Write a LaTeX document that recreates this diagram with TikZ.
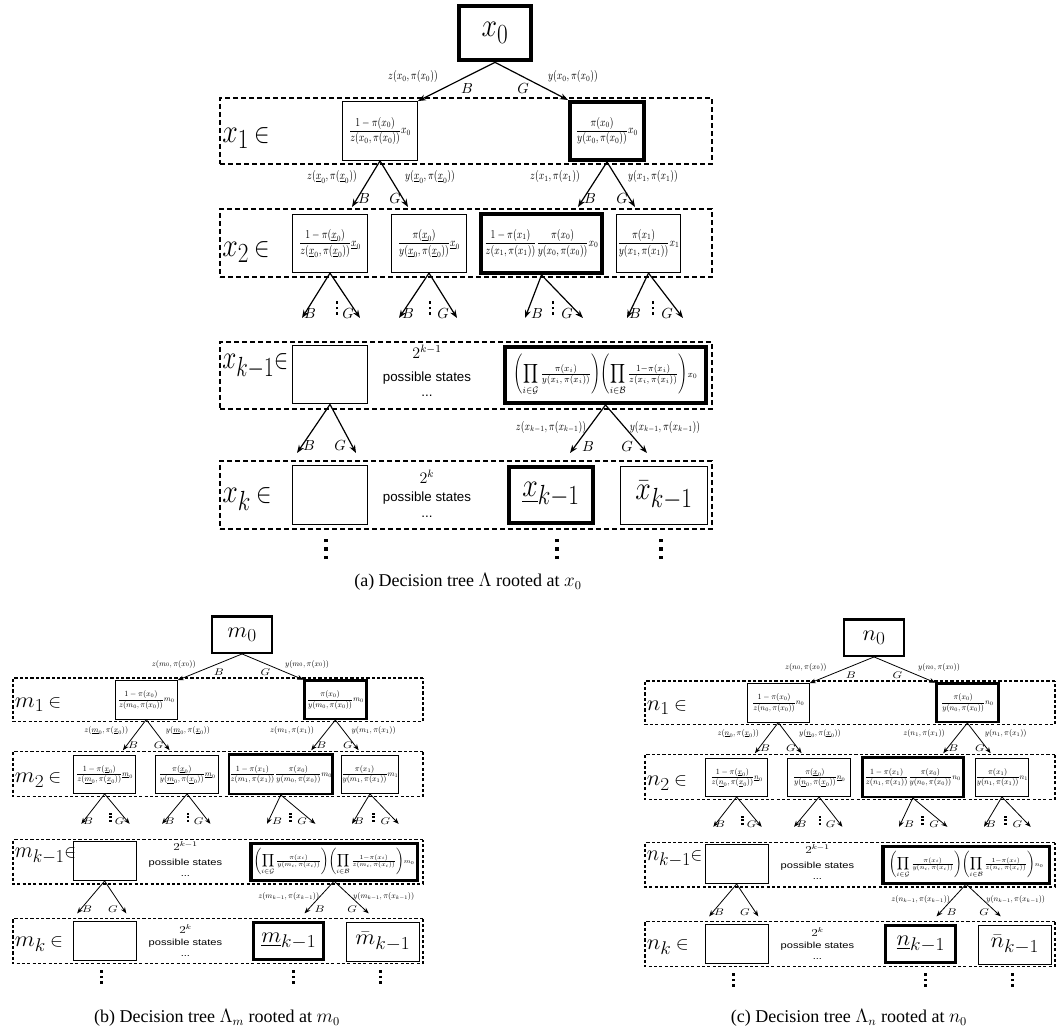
\documentclass[tikz,border=0pt]{standalone}
\usepackage{amsmath}
\usepackage{graphicx}
\usepackage{fontspec}
\setmainfont{Liberation Serif}
\setsansfont{Liberation Sans}
\usetikzlibrary{arrows.meta}

\newcommand{\sqdots}[2]{\vbox{\offinterlineskip\hbox{\rule{#1}{#1}}\vskip#2\hbox{\rule{#1}{#1}}\vskip#2\hbox{\rule{#1}{#1}}}}
\newcommand{\nm}[1]{\scalebox{0.78}[1]{$#1$}}
\newcommand{\lb}[1]{\scalebox{0.84}[1]{#1}}

\tikzset{
 kbox/.style={draw, line width=3pt, inner sep=0.5pt},
 tbox/.style={draw, line width=0.9pt, inner sep=0.5pt},
 rowbox/.style={draw, line width=1.8pt, dash pattern=on 3.4pt off 2.6pt, minimum width=369pt, inner sep=0pt},
 arr/.style={-{Stealth[length=6pt,width=4.5pt]}, line width=0.9pt},
 inframe/.style={line width=0.6pt},
 elab/.style={font=\fontsize{9}{10}\selectfont, inner sep=0pt},
 bgl/.style={font=\fontsize{11}{12}\selectfont, inner sep=0pt},
 bigl/.style={font=\fontsize{28}{30}\selectfont, inner sep=0pt},
 boxf/.style={font=\fontsize{9.2}{10}\selectfont},
 sans/.style={font=\sffamily\fontsize{10}{12}\selectfont, inner sep=0pt},
 capt/.style={font=\fontsize{13.5}{15}\selectfont, inner sep=0pt},
 dotsmall/.style={inner sep=0pt},
}

\newcommand{\elem}{{\fontsize{20}{20}\selectfont$\in$}}

\newcommand{\drawtree}[2]{%
% ---- root and level 1
\node[kbox, font=\fontsize{28}{30}\selectfont, minimum width=54pt, minimum height=41pt] (#2root) at (275,30) {\lb{$#1_0$}};
\node[rowbox, minimum height=49.5pt] (#2row1) at (246,128) {};
\node[bigl, anchor=west] (#2lab1) at (2,135) {\lb{$#1_1$\,\elem}};
\node[tbox, boxf, minimum width=56pt, minimum height=44pt] (#2L1) at (160,128) {\nm{\dfrac{1-\pi(x_0)}{z(#1_0,\pi(x_0))}#1_0}};
\node[kbox, boxf, minimum width=55.5pt, minimum height=43.5pt] (#2R1) at (387,128) {\nm{\dfrac{\pi(x_0)}{y(#1_0,\pi(x_0))}#1_0}};
\draw[arr] (#2root.south) -- (#2L1.north east);
\draw[arr] (#2root.south) -- (#2R1.north west);
\node[elab] (#2e1) at (193,74) {\nm{z(#1_0,\pi(x_0))}};
\node[elab] (#2e2) at (353,74) {\nm{y(#1_0,\pi(x_0))}};
\node[bgl] (#2b1) at (247,86) {$B$};
\node[bgl] (#2g1) at (303,86) {$G$};
% ---- level 2
\node[rowbox, minimum height=51pt] (#2row2) at (246,240) {};
\node[bigl, anchor=west] (#2lab2) at (2,249) {\lb{$#1_2$\,\elem}};
\node[tbox, boxf, minimum width=56.25pt, minimum height=43.5pt] (#2A) at (110,240.5) {\nm{\dfrac{1-\pi(\underline{x}_0)}{z(\underline{#1}_0,\pi(\underline{x}_0))}\underline{#1}_0}};
\node[tbox, boxf, minimum width=56.25pt, minimum height=43.5pt] (#2B) at (209,240.5) {\nm{\dfrac{\pi(\underline{x}_0)}{y(\underline{#1}_0,\pi(\underline{x}_0))}\underline{#1}_0}};
\node[kbox, boxf, minimum width=90.75pt, minimum height=44.25pt] (#2C) at (321.5,240.5) {\nm{\dfrac{1-\pi(x_1)}{z(#1_1,\pi(x_1))}\dfrac{\pi(x_0)}{y(#1_0,\pi(x_0))}#1_0}};
\node[tbox, boxf, minimum width=47.25pt, minimum height=43.5pt] (#2D) at (428.5,240.5) {\nm{\dfrac{\pi(x_1)}{y(#1_1,\pi(x_1))}#1_1}};
\coordinate (#2t1) at (132,204);
\coordinate (#2t2) at (188,204);
\coordinate (#2t3) at (358,204);
\coordinate (#2t4) at (415,204);
\draw[arr] (#2L1.south) -- (#2t1);
\draw[arr] (#2L1.south) -- (#2t2);
\draw[arr] (#2R1.south) -- (#2t3);
\draw[arr] (#2R1.south) -- (#2t4);
\node[elab] (#2e3) at (112,174) {\nm{z(\underline{#1}_0,\pi(\underline{x}_0))}};
\node[elab] (#2e4) at (210,174) {\nm{y(\underline{#1}_0,\pi(\underline{x}_0))}};
\node[elab] (#2e5) at (335,174) {\nm{z(#1_1,\pi(x_1))}};
\node[elab] (#2e6) at (433,174) {\nm{y(#1_1,\pi(x_1))}};
\node[bgl] (#2b2) at (144,196) {$B$};
\node[bgl] (#2g2) at (175,196) {$G$};
\node[bgl] (#2b3) at (370,196) {$B$};
\node[bgl] (#2g3) at (402,196) {$G$};
% ---- branches below level 2
\coordinate (#2u1) at (82,315);  \coordinate (#2u2) at (140,315);
\coordinate (#2u3) at (179,315); \coordinate (#2u4) at (237,315);
\coordinate (#2u5) at (305,315); \coordinate (#2u6) at (363,315);
\coordinate (#2u7) at (407,315); \coordinate (#2u8) at (463,315);
\draw[arr] (#2A.south) -- (#2u1);
\draw[arr] (#2A.south) -- (#2u2);
\draw[arr] (#2B.south) -- (#2u3);
\draw[arr] (#2B.south) -- (#2u4);
\draw[arr] (#2C.south) -- (#2u5);
\draw[arr] (#2C.south) -- (#2u6);
\draw[arr] (#2D.south) -- (#2u7);
\draw[arr] (#2D.south) -- (#2u8);
\node[bgl] (#2b4) at (90,311) {$B$};
\node[bgl] (#2g4) at (128,311) {$G$};
\node[bgl] (#2b5) at (188,311) {$B$};
\node[bgl] (#2g5) at (223,311) {$G$};
\node[bgl] (#2b6) at (317,311) {$B$};
\node[bgl] (#2g6) at (347,311) {$G$};
\node[bgl] (#2b7) at (415,311) {$B$};
\node[bgl] (#2g7) at (447,311) {$G$};
\node[dotsmall] (#2d1) at (117,305) {\sqdots{2.2pt}{1.8pt}};
\node[dotsmall] (#2d2) at (210,305) {\sqdots{2.2pt}{1.8pt}};
\node[dotsmall] (#2d3) at (333,305) {\sqdots{2.2pt}{1.8pt}};
\node[dotsmall] (#2d4) at (433,305) {\sqdots{2.2pt}{1.8pt}};
% ---- level k-1
\node[rowbox, minimum height=50.25pt] (#2row3) at (246,372.5) {};
\node[bigl, anchor=west] (#2lab3) at (2,363) {\scalebox{0.76}[1]{$#1_{k-1}$\elem}};
\node[tbox, minimum width=56.5pt, minimum height=44pt] (#2E1) at (110,371.5) {};
\node[inner sep=0pt, font=\fontsize{11.5}{12}\selectfont] (#2s1) at (207,349) {$2^{k-1}$};
\node[sans] (#2s2) at (207,375) {possible states};
\node[sans] (#2s3) at (207,393) {...};
\node[kbox, font=\fontsize{10}{12}\selectfont, minimum width=150.75pt, minimum height=42pt] (#2P) at (385.5,372) {\scalebox{0.88}[1]{$\displaystyle\left(\prod_{i\in\mathcal{G}}\tfrac{\pi(x_i)}{y(#1_i,\,\pi(x_i))}\right)\!\left(\prod_{i\in\mathcal{B}}\tfrac{1-\pi(x_i)}{z(#1_i,\,\pi(x_i))}\right)\scriptstyle #1_0$}};
\draw[inframe] ([shift={(2.6pt,-2.6pt)}]#2P.north west) rectangle ([shift={(-2.6pt,2.6pt)}]#2P.south east);
\coordinate (#2v1) at (77,450);  \coordinate (#2v2) at (136,450);
\coordinate (#2v3) at (350,450); \coordinate (#2v4) at (427,450);
\draw[arr] (#2E1.south) -- (#2v1);
\draw[arr] (#2E1.south) -- (#2v2);
\draw[arr] (#2P.south) -- (#2v3);
\draw[arr] (#2P.south) -- (#2v4);
\node[elab] (#2e7) at (331,424) {\nm{z(#1_{k-1},\pi(x_{k-1}))}};
\node[elab] (#2e8) at (445,424) {\nm{y(#1_{k-1},\pi(x_{k-1}))}};
\node[bgl] (#2b8) at (89,443) {$B$};
\node[bgl] (#2g8) at (120,443) {$G$};
\node[bgl] (#2b9) at (368,444) {$B$};
\node[bgl] (#2g9) at (407,444) {$G$};
% ---- level k
\node[rowbox, minimum height=51pt] (#2row4) at (246,492) {};
\node[bigl, anchor=west] (#2lab4) at (2,496) {\lb{$#1_k$\,\elem}};
\node[tbox, minimum width=56.5pt, minimum height=44pt] (#2E2) at (110,492) {};
\node[inner sep=0pt, font=\fontsize{11.5}{12}\selectfont] (#2s4) at (207,474) {$2^{k}$};
\node[sans] (#2s5) at (207,495) {possible states};
\node[sans] (#2s6) at (207,514) {...};
\node[kbox, font=\fontsize{28}{30}\selectfont, minimum width=63pt, minimum height=42pt] (#2LB) at (331,492) {\lb{$\underline{#1}_{k-1}$}};
\node[tbox, font=\fontsize{28}{30}\selectfont, minimum width=65.5pt, minimum height=44pt] (#2RB) at (444,492.5) {\lb{$\bar{#1}_{k-1}$}};
\node[dotsmall] (#2d5) at (106,546) {\sqdots{2.6pt}{3.6pt}};
\node[dotsmall] (#2d6) at (337,546) {\sqdots{2.6pt}{3.6pt}};
\node[dotsmall] (#2d7) at (441,546) {\sqdots{2.6pt}{3.6pt}};
}

\tikzset{smalltree/.style={xscale=0.833, yscale=0.663, transform shape,
 kbox/.style={draw, line width=2.1pt, inner sep=0.5pt},
 tbox/.style={draw, line width=0.6pt, inner sep=0.5pt},
 rowbox/.style={draw, line width=1.1pt, dash pattern=on 2.3pt off 1.7pt, minimum width=369pt, inner sep=0pt},
 arr/.style={-{Stealth[length=4.5pt,width=3.5pt]}, line width=0.6pt},
 inframe/.style={line width=0.4pt}}}

\begin{document}
\begin{tikzpicture}[x=0.75pt, y=-0.75pt]
\useasboundingbox (0,0) rectangle (1057,1034);
\begin{scope}[shift={(220,3)}]
\drawtree{x}{a}
\end{scope}
\node[capt] (capa) at (468,582) {(a) Decision tree $\Lambda$ rooted at $x_0$};
\begin{scope}[shift={(13,615)}, smalltree]
\drawtree{m}{b}
\end{scope}
\node[capt] (capb) at (217,1018) {(b) Decision tree $\Lambda_m$ rooted at $m_0$};
\begin{scope}[shift={(645,618)}, smalltree]
\drawtree{n}{c}
\end{scope}
\node[capt] (capc) at (849,1018) {(c) Decision tree $\Lambda_n$ rooted at $n_0$};
\end{tikzpicture}
\end{document}
